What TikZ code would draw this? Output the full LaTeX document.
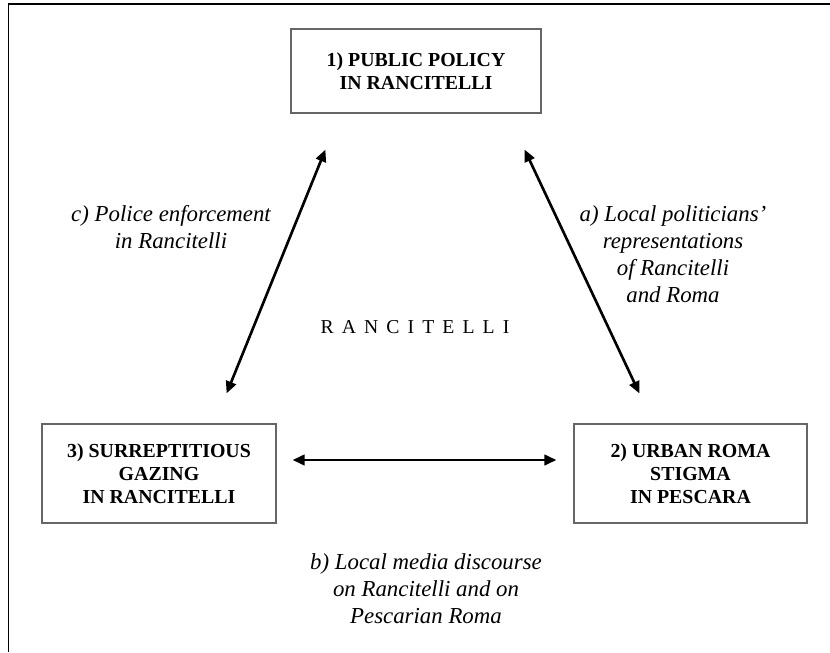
\documentclass[tikz,border=0pt]{standalone}
\usepackage{fontspec}
\setmainfont{Liberation Serif}
\usetikzlibrary{arrows.meta,calc}

\begin{document}
\begin{tikzpicture}[x=0.2mm,y=-0.2mm,
		box/.style={draw=black!60,line width=0.7pt,align=center,minimum height=1.98cm,font=\fontsize{11.3}{13}\selectfont\bfseries},
		lab/.style={align=center,font=\fontsize{13}{15.4}\selectfont\itshape},
		link/.style={{Triangle[length=2.4mm,width=2.1mm]}-{Triangle[length=2.4mm,width=2.1mm]},line width=1.5pt}]

		\useasboundingbox (0,0) rectangle (830,652);
		\draw[line width=0.7pt] (8.5,652) -- (8.5,4) -- (830,4);

		\node[box,minimum width=5cm,minimum height=1.68cm] (policy) at (416,71) {1) PUBLIC POLICY\\IN RANCITELLI};
		\node[box,minimum width=4.66cm] (stigma) at (690.5,473.5) {2) URBAN ROMA\\STIGMA\\IN PESCARA};
		\node[box,minimum width=4.68cm] (gazing) at (159,473.5) {3) SURREPTITIOUS\\GAZING\\IN RANCITELLI};

		\node[font=\fontsize{11.2}{13}\selectfont] (area) at (415,327) {\spaceskip=4.6pt R A N C I T E L L I};

		\node[lab] (police) at (171,227) {c) Police enforcement\\in Rancitelli};
		\node[lab] (politics) at (673,254) {a) Local politicians'\\representations\\of Rancitelli\\and Roma};
		\node[lab] (media) at (426,589) {b) Local media discourse\\on Rancitelli and on\\Pescarian Roma};

		\draw[link] ($(policy.south west)+(35,36)$) -- ($(gazing.north east)+(-50,-30)$);
		\draw[link] ($(policy.south east)+(-17,36)$) -- ($(stigma.north west)+(66,-30)$);
		\draw[link] ($(gazing.east)+(16,-13.5)$) -- ($(stigma.west)+(-17,-13.5)$);

\end{tikzpicture}
\end{document}
